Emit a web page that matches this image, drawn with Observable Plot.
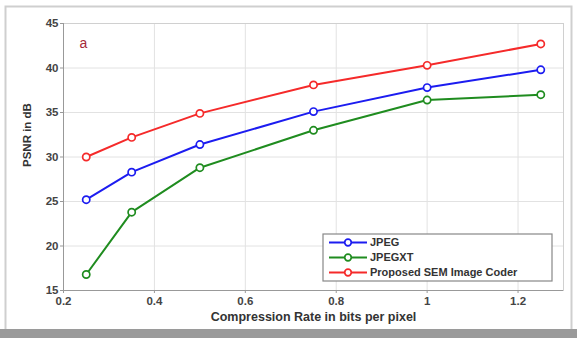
<!DOCTYPE html>
<html><head><meta charset="utf-8">
<script src="https://cdn.jsdelivr.net/npm/d3@7"></script>
<script src="https://cdn.jsdelivr.net/npm/@observablehq/plot@0.6"></script>
<style>body{margin:0;background:#fff;font-family:"Liberation Sans",Arial,sans-serif}</style>
</head><body><div id="chart"></div>
<script>
const rates = [0.25, 0.35, 0.5, 0.75, 1.0, 1.25];
const jpeg = [25.2, 28.3, 31.4, 35.1, 37.8, 39.8];
const jpegxt = [16.8, 23.8, 28.8, 33.0, 36.4, 37.0];
const proposed = [30.0, 32.2, 34.9, 38.1, 40.3, 42.7];
const seriesNames = ["JPEG", "JPEGXT", "Proposed SEM Image Coder"];
const seriesColors = ["#1c1cf0", "#1f8c1f", "#f52a2a"];
const xTicks = [0.2, 0.4, 0.6, 0.8, 1, 1.2];
const yTicks = [15, 20, 25, 30, 35, 40, 45];
const xLabel = "Compression Rate in bits per pixel";
const yLabel = "PSNR in dB";
const panelTag = "a";

const allSeries = [jpeg, jpegxt, proposed];
const data = [];
allSeries.forEach((vals, i) => vals.forEach((v, j) => data.push({series: seriesNames[i], x: rates[j], y: v})));

const W = 577, H = 338;
const plot = Plot.plot({
  width: W, height: H,
  marginLeft: 63, marginRight: 14, marginTop: 23, marginBottom: 48,
  style: {background: "transparent", fontFamily: "Liberation Sans, Arial, sans-serif"},
  x: {domain: [0.2, 1.3]},
  y: {domain: [15, 45]},
  color: {domain: seriesNames, range: seriesColors},
  marks: [
    Plot.gridX(xTicks, {stroke: "#e2e2e2", strokeOpacity: 1}),
    Plot.gridY(yTicks, {stroke: "#e2e2e2", strokeOpacity: 1}),
    Plot.frame({stroke: "#d0d0d0"}),
    Plot.ruleX([0.2], {stroke: "#999"}),
    Plot.ruleY([15], {stroke: "#999"}),
    Plot.axisX(xTicks, {tickSize: 3, tickPadding: 3, tickFormat: d => String(d), fontWeight: "bold", fontSize: 11.5, fill: "#444", stroke: "#999", label: null}),
    Plot.axisY(yTicks, {tickSize: 3, tickPadding: 2, fontWeight: "bold", fontSize: 11.5, fill: "#444", stroke: "#999", label: null}),
    Plot.line(data, {x: "x", y: "y", z: "series", stroke: "series", strokeWidth: 2}),
    Plot.dot(data, {x: "x", y: "y", stroke: "series", fill: "white", r: 3.6, strokeWidth: 1.7}),
    Plot.text([panelTag], {frameAnchor: "top-left", dx: 16, dy: 15, fill: "#a52a3a", fontSize: 14}),
    Plot.text([xLabel], {frameAnchor: "bottom", dy: 30, fontWeight: "bold", fontSize: 12.5, fill: "#333"}),
    Plot.text([yLabel], {frameAnchor: "left", dx: -36, dy: 10, rotate: -90, fontWeight: "bold", fontSize: 11.5, fill: "#333"})
  ]
});
document.getElementById("chart").appendChild(plot);

const svg = d3.select(plot);
// legend
const lg = svg.append("g").attr("transform", "translate(323,234)").attr("text-anchor", "start");
lg.append("rect").attr("width", 229).attr("height", 47).attr("fill", "white").attr("stroke", "#888").attr("stroke-width", 1.2);
seriesNames.forEach((name, i) => {
  const y = 8.5 + i * 15;
  lg.append("line").attr("x1", 6).attr("x2", 44).attr("y1", y).attr("y2", y).attr("stroke", seriesColors[i]).attr("stroke-width", 2);
  lg.append("circle").attr("cx", 25).attr("cy", y).attr("r", 3.3).attr("fill", "white").attr("stroke", seriesColors[i]).attr("stroke-width", 1.7);
  lg.append("text").attr("x", 47).attr("y", y).attr("dy", "0.35em").attr("text-anchor", "start")
    .attr("font-size", 11).attr("font-weight", "bold").attr("fill", "#333").text(name);
});
// outer picture border
svg.append("rect").attr("x", 5.5).attr("y", 6.5).attr("width", 566).attr("height", 330).attr("fill", "none").attr("stroke", "#cfcfcf").attr("stroke-width", 2);
svg.append("rect").attr("x", 0).attr("y", 329).attr("width", W).attr("height", 9).attr("fill", "#9a9a9a");
</script></body></html>
